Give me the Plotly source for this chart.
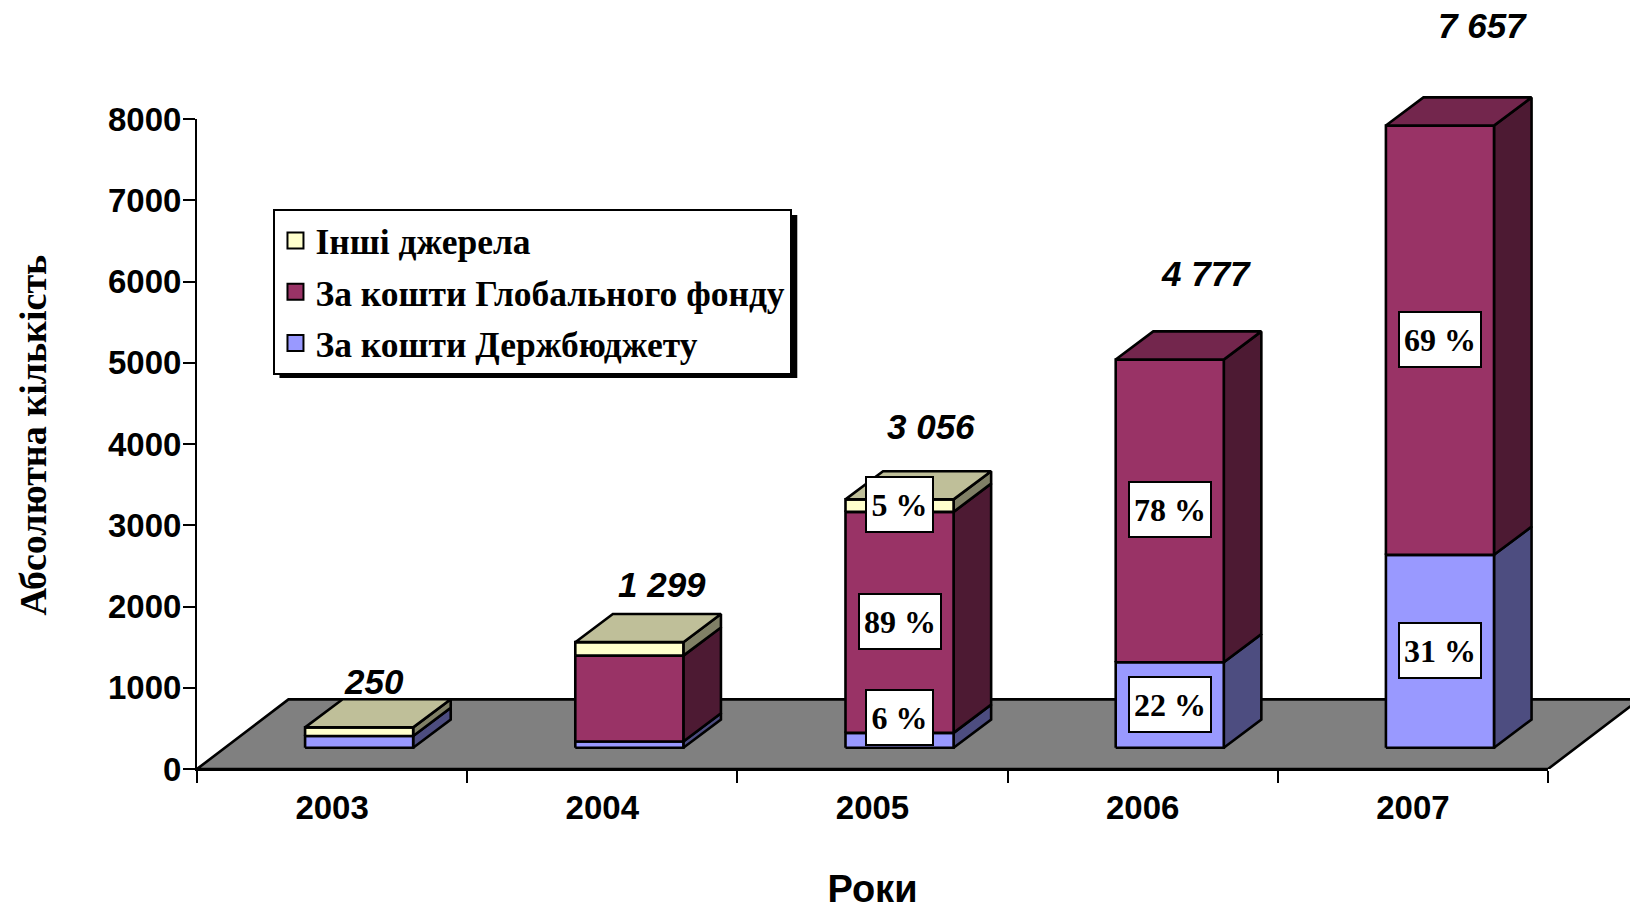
import plotly.graph_objects as go

# --- data ---
years = ["2003", "2004", "2005", "2006", "2007"]
budget = [145, 77, 183, 1051, 2374]
fund = [0, 1056, 2720, 3726, 5283]
other = [105, 166, 153, 0, 0]
total_labels = ["250", "1 299", "3 056", "4 777", "7 657"]
budget_pct = ["", "", "6 %", "22 %", "31 %"]
fund_pct = ["", "", "89 %", "78 %", "69 %"]
other_pct = ["", "", "5 %", "", ""]
y_ticks = [0, 1000, 2000, 3000, 4000, 5000, 6000, 7000, 8000]

series_names = ["За кошти Держбюджету", "За кошти Глобального фонду", "Інші джерела"]
series_values = [budget, fund, other]
series_pct = [budget_pct, fund_pct, other_pct]
front_colors = ["#9999FF", "#993366", "#FFFFCC"]
side_colors = ["#4D4D80", "#4D1A33", "#808066"]
top_colors = ["#73739F", "#73264D", "#BFBF99"]

# --- page geometry: the axes end at 5 categories / 8000, the 3-D marks run past that ---
W, H = 1630, 910
AX_L, AX_B = 196.5, 769
PX_PER_CAT, PX_PER_UNIT = 270.3, 0.08125
XMAX = (W - AX_L) / PX_PER_CAT
YMAX = AX_B / PX_PER_UNIT

# --- 3-D look, in axis units ---
FLOOR_DX, FLOOR_DY = 0.3385, 857
BAR_DX, BAR_DY = 0.139, 347
BAR_X0, BAR_W = 0.40, 0.40
BAR_BASE = 262
LW = 2.6
SERIF = "Liberation Serif"
SANS = "Liberation Sans"

# label placement (pixels relative to the bar / segment)
total_xshift = [15, 33, 31, 36, 43]
total_yshift = [46, 58, 73, 86, 100]
pct_yshift = {(0, 2): 23}
pct_box_w = {"5 %": 65, "6 %": 65}

fig = go.Figure()


def poly(xs, ys, color):
    fig.add_trace(go.Scatter(
        x=xs + xs[:1], y=ys + ys[:1], mode="lines", fill="toself", fillcolor=color,
        line=dict(color="black", width=LW), showlegend=False, hoverinfo="skip"))


# floor
poly([0, len(years), len(years) + FLOOR_DX, FLOOR_DX], [0, 0, FLOOR_DY, FLOOR_DY], "#808080")

annotations = []
for i, year in enumerate(years):
    x0 = i + BAR_X0
    x1 = x0 + BAR_W
    base = BAR_BASE
    top_s = 0
    for s, vals in enumerate(series_values):
        v = vals[i]
        if v == 0:
            continue
        poly([x1, x1 + BAR_DX, x1 + BAR_DX, x1],
             [base, base + BAR_DY, base + v + BAR_DY, base + v], side_colors[s])
        poly([x0, x1, x1, x0], [base, base, base + v, base + v], front_colors[s])
        label = series_pct[s][i]
        if label:
            annotations.append(dict(
                x=(x0 + x1) / 2, y=base + v / 2, xref="x", yref="y", text=label,
                yshift=pct_yshift.get((s, i), 1), showarrow=False,
                font=dict(family=SERIF, size=32, color="black", weight=700),
                bgcolor="white", bordercolor="black", borderwidth=2, borderpad=0,
                width=pct_box_w.get(label, 80), height=53))
        base += v
        top_s = s
    poly([x0, x1, x1 + BAR_DX, x0 + BAR_DX],
         [base, base, base + BAR_DY, base + BAR_DY], top_colors[top_s])
    annotations.append(dict(
        x=(x0 + x1) / 2, y=base, xref="x", yref="y", text=total_labels[i],
        xshift=total_xshift[i], yshift=total_yshift[i], showarrow=False,
        font=dict(family=SANS, size=35, color="black", weight=700, style="italic")))

# legend entries
for s in [2, 1, 0]:
    fig.add_trace(go.Scatter(
        x=[None], y=[None], mode="markers", name=series_names[s], legendgroup=series_names[s],
        marker=dict(symbol="square", size=16, color=front_colors[s],
                    line=dict(color="black", width=2)),
        hoverinfo="skip"))

# trace that brings in the visible axes
fig.add_trace(go.Scatter(x=[None], y=[None], xaxis="x2", yaxis="y2", mode="lines",
                         showlegend=False, hoverinfo="skip"))


def px(p):
    return (p - AX_L) / (W - AX_L)


def py(p):
    return (AX_B - p) / AX_B


annotations.append(dict(
    x=px(32), y=py(435), xref="paper", yref="paper", xanchor="center", yanchor="middle",
    text="Абсолютна кількість", textangle=-90, showarrow=False,
    font=dict(family=SERIF, size=38, color="black", weight=700)))

# legend shadow
LEG_L, LEG_T, LEG_R, LEG_B = 273, 209, 791, 372

fig.update_layout(
    width=W, height=H, margin=dict(l=AX_L, r=0, t=0, b=H - AX_B),
    paper_bgcolor="white", plot_bgcolor="rgba(0,0,0,0)",
    font=dict(family=SANS, color="black"),
    xaxis=dict(range=[0, XMAX], visible=False, automargin=False),
    yaxis=dict(range=[0, YMAX], visible=False, automargin=False),
    xaxis2=dict(
        domain=[0, len(years) / XMAX], anchor="y2", automargin=False,
        range=[0, len(years)], tickmode="array",
        tickvals=[i + 0.5 for i in range(len(years))], ticktext=years,
        ticks="outside", ticklen=8, tickcolor="rgba(0,0,0,0)",
        showgrid=False, zeroline=False, showline=True,
        linecolor="black", linewidth=2,
        tickfont=dict(family=SANS, size=33, color="black", weight=700),
        minor=dict(tickmode="array", tickvals=list(range(len(years) + 1)), ticks="outside",
                   ticklen=12, tickwidth=2, tickcolor="black", showgrid=False),
        title=dict(text="Роки", standoff=54,
                   font=dict(family=SANS, size=38, color="black", weight=700)),
    ),
    yaxis2=dict(
        domain=[0, 8000 / YMAX], anchor="x2", automargin=False,
        range=[0, 8000], tickmode="array", tickvals=y_ticks, ticks="outside",
        ticklen=12, tickwidth=2, tickcolor="black", showgrid=False, zeroline=False,
        showline=True, linecolor="black", linewidth=2, ticklabelstandoff=-5,
        tickfont=dict(family=SANS, size=33, color="black", weight=700),
    ),
    legend=dict(
        x=px(LEG_L), y=py(LEG_T), xanchor="left", yanchor="top",
        traceorder="grouped", tracegroupgap=2, bgcolor="white",
        bordercolor="black", borderwidth=2,
        font=dict(family=SERIF, size=35.5, color="black", weight=700),
    ),
    shapes=[dict(type="rect", xref="paper", yref="paper",
                 x0=px(LEG_L + 6), x1=px(LEG_R + 6), y0=py(LEG_T + 6), y1=py(LEG_B + 6),
                 fillcolor="black", line=dict(width=0), layer="above")],
    annotations=annotations,
)

fig.write_html("out.html", config={"displayModeBar": False},
               post_script="document.body.style.margin='0';")
